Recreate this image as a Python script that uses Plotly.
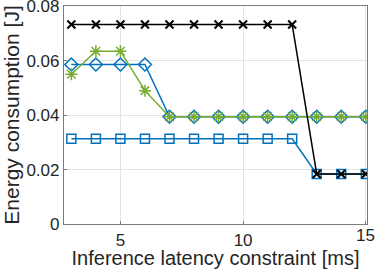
import plotly.graph_objects as go

x = [3, 4, 5, 6, 7, 8, 9, 10, 11, 12, 13, 14, 15]
diamond_vals = [0.0586, 0.0586, 0.0586, 0.0586, 0.0394, 0.0394, 0.0394, 0.0394, 0.0394, 0.0394, 0.0394, 0.0394, 0.0394]
star_vals = [0.055, 0.0635, 0.0635, 0.049, 0.0394, 0.0394, 0.0394, 0.0394, 0.0394, 0.0394, 0.0394, 0.0394, 0.0394]
square_vals = [0.0313, 0.0313, 0.0313, 0.0313, 0.0313, 0.0313, 0.0313, 0.0313, 0.0313, 0.0313, 0.0184, 0.0184, 0.0184]
cross_vals = [0.0733, 0.0733, 0.0733, 0.0733, 0.0733, 0.0733, 0.0733, 0.0733, 0.0733, 0.0733, 0.0184, 0.0184, 0.0184]

x_tickvals = [5, 10, 15]
x_ticktext = ["5", "10", ""]
y_tickvals = [0, 0.02, 0.04, 0.06, 0.08]
y_ticktext = ["0", "0.02", "0.04", "0.06", "0.08"]

blue = "#0072BD"
green = "#77AC30"
font_family = "Liberation Sans, Arial, sans-serif"

fig = go.Figure()
fig.add_trace(go.Scatter(x=x, y=diamond_vals, mode="lines+markers",
                         line=dict(color=blue, width=1.5),
                         marker=dict(symbol="diamond-open", size=10, color=blue, line=dict(width=1.5))))
fig.add_trace(go.Scatter(x=x, y=star_vals, mode="lines+markers",
                         line=dict(color=green, width=1.5),
                         marker=dict(symbol="asterisk-open", size=10, color=green, line=dict(width=1.5, color=green))))
fig.add_trace(go.Scatter(x=x, y=square_vals, mode="lines+markers",
                         line=dict(color=blue, width=1.5),
                         marker=dict(symbol="square-open", size=9, color=blue, line=dict(width=1.5))))
fig.add_trace(go.Scatter(x=x, y=cross_vals, mode="lines+markers",
                         line=dict(color="black", width=1.5),
                         marker=dict(symbol="x-thin-open", size=8, color="black", line=dict(width=2, color="black"))))

axis_common = dict(showgrid=True, gridcolor="#e3e3e3", gridwidth=1,
                   showline=True, linecolor="#7a7a7a", linewidth=1.2, mirror=True,
                   ticks="inside", ticklen=3, tickcolor="#7a7a7a", zeroline=False,
                   ticklabeloverflow="allow", automargin=False,
                   tickfont=dict(family=font_family, size=17, color="#262626"))

fig.update_layout(
    width=378, height=269,
    margin=dict(l=64, r=11, t=6, b=45),
    plot_bgcolor="white", paper_bgcolor="white",
    showlegend=False,
    font=dict(family=font_family, color="#262626"),
    xaxis=dict(range=[2.7, 15.05], tickvals=x_tickvals, ticktext=x_ticktext,
               title=dict(text="Inference latency constraint [ms]", font=dict(size=20), standoff=0),
               **axis_common),
    yaxis=dict(range=[0, 0.0801], tickvals=y_tickvals, ticktext=y_ticktext,
               title=dict(text="Energy consumption [J]", font=dict(size=21), standoff=1),
               **axis_common),
)

# the raised "15" tick label, as in the reference
fig.add_annotation(x=15, y=0, xref="x", yref="y", text="15", showarrow=False,
                   yanchor="top", xanchor="center", yshift=0,
                   font=dict(family=font_family, size=17, color="#262626"))

fig.write_html("out.html", config={"displayModeBar": False},
               post_script="document.body.style.margin='0';")
